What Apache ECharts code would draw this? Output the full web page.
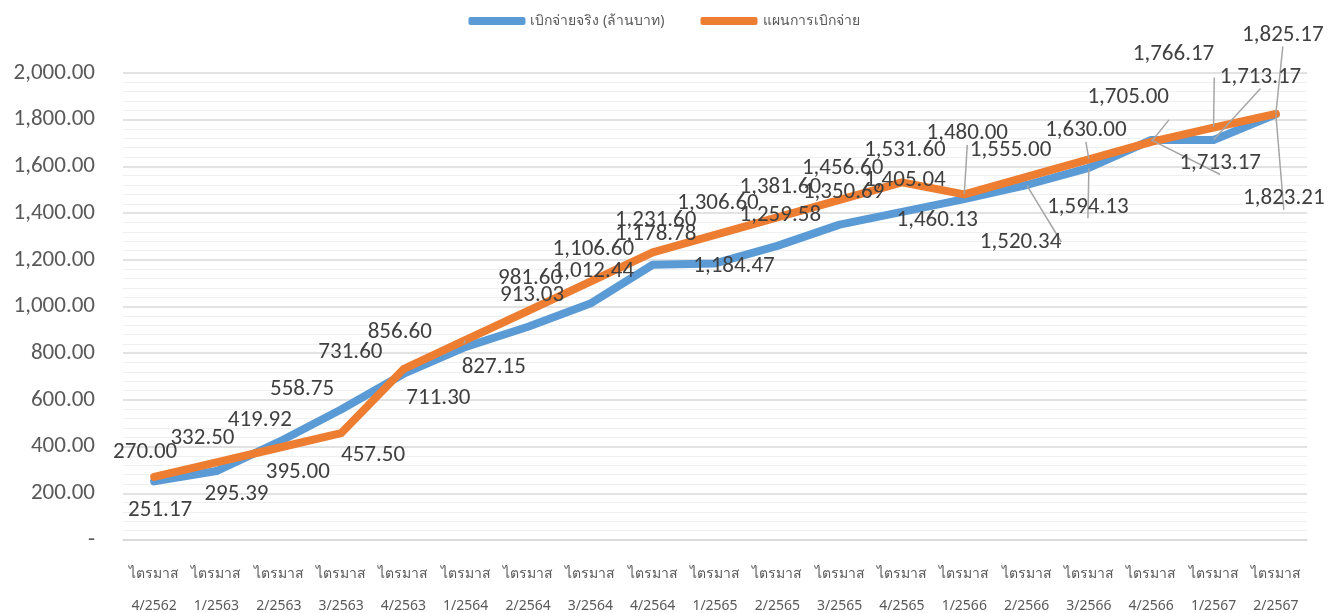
<!DOCTYPE html>
<html>
<head>
<meta charset="utf-8">
<script src="https://cdn.jsdelivr.net/npm/echarts@6/dist/echarts.min.js"></script>
<style>
  html, body { margin: 0; padding: 0; background: #fff; }
  #chart { width: 1328px; height: 613px; }
</style>
</head>
<body>
<div id="chart"></div>
<script>
  // quarters
  const quarters = ['4/2562', '1/2563', '2/2563', '3/2563', '4/2563', '1/2564', '2/2564', '3/2564', '4/2564',
    '1/2565', '2/2565', '3/2565', '4/2565', '1/2566', '2/2566', '3/2566', '4/2566', '1/2567', '2/2567']
  const categories = quarters.map(q => 'ไตรมาส\n' + q)

  const actual = [251.17, 295.39, 419.92, 558.75, 711.30, 827.15, 913.03, 1012.44, 1178.78,
    1184.47, 1259.58, 1350.69, 1405.04, 1460.13, 1520.34, 1594.13, 1713.17, 1713.17, 1823.21]
  const plan = [270.00, 332.50, 395.00, 457.50, 731.60, 856.60, 981.60, 1106.60, 1231.60,
    1306.60, 1381.60, 1456.60, 1531.60, 1480.00, 1555.00, 1630.00, 1705.00, 1766.17, 1825.17]

  const actualName = 'เบิกจ่ายจริง (ล้านบาท)'
  const planName = 'แผนการเบิกจ่าย'

  // label offsets (dx, dy) from each point, and which labels get a leader line
  const actualOffsets = [[6, 29], [20, 23], [-19, -22], [-39, -20], [35, 24], [28, 20], [4, -32], [3, -32], [3, -31],
    [19, 3], [3, -31], [4, -32], [3, -32], [-27, 21], [-6, 57], [-1, 39], [69, 23], [47, -63], [8, 84]]
  const planOffsets = [[-9, -25], [-14, -24], [19, 24], [32, 22], [-53, -17], [-66, -8], [2, -33], [3, -32], [3, -32],
    [3, -32], [3, -30], [3, -32], [3, -32], [3, -61], [-16, -27], [-3, -29], [-23, -45], [-40, -73], [7, -79]]
  const actualLeader = [14, 15, 16, 17, 18]
  const planLeader = [5, 13, 15, 16, 17, 18]

  const numFont = 'Calibri, Carlito, "Open Sans", "Noto Sans", sans-serif'
  const fmt = v => v === 0 ? '-' : v.toLocaleString('en-US', { minimumFractionDigits: 2, maximumFractionDigits: 2 })

  function buildData(values, offsets, leaders) {
    return values.map((v, i) => ({
      value: v,
      label: { offset: offsets[i] },
      labelLine: { show: leaders.indexOf(i) >= 0 }
    }))
  }

  function makeSeries(name, color, values, offsets, leaders) {
    return {
      name: name,
      type: 'line',
      data: buildData(values, offsets, leaders),
      symbol: 'circle',
      symbolSize: 1,
      showSymbol: true,
      itemStyle: { color: color },
      lineStyle: { width: 8, color: color, cap: 'round', join: 'round' },
      label: {
        show: true,
        position: 'inside',
        color: '#404040',
        fontSize: 23,
        fontFamily: numFont,
        formatter: p => fmt(p.value)
      },
      labelLine: {
        lineStyle: { color: '#a6a6a6', width: 1.5 }
      },
      emphasis: { disabled: true },
      animation: false
    }
  }

  const chart = echarts.init(document.getElementById('chart'))
  chart.setOption({
    backgroundColor: '#fff',
    textStyle: { fontFamily: '"Noto Sans", "Open Sans", sans-serif' },
    legend: {
      top: 9,
      left: 'center',
      itemGap: 36,
      itemWidth: 57,
      itemHeight: 8,
      icon: 'roundRect',
      textStyle: { color: '#595959', fontSize: 14 },
      data: [actualName, planName]
    },
    grid: {
      left: 123,
      right: 21,
      top: 73,
      bottom: 73,
      outerBoundsMode: 'none'
    },
    xAxis: {
      type: 'category',
      data: categories,
      boundaryGap: true,
      axisLine: { lineStyle: { color: '#d9d9d9', width: 1.5 } },
      axisTick: { show: false },
      axisLabel: {
        color: '#595959',
        fontSize: 14,
        lineHeight: 32,
        margin: 18,
        interval: 0
      }
    },
    yAxis: {
      type: 'value',
      min: 0,
      max: 2000,
      interval: 200,
      axisLine: { show: false },
      axisTick: { show: false },
      axisLabel: {
        color: '#595959',
        fontSize: 23,
        margin: 28,
        fontFamily: numFont,
        formatter: fmt
      },
      splitLine: { lineStyle: { color: '#d9d9d9', width: 1.5 } },
      minorTick: { show: false, splitNumber: 5 },
      minorSplitLine: { show: true, lineStyle: { color: '#f0f0f0', width: 1 } }
    },
    series: [
      makeSeries(actualName, '#5B9BD5', actual, actualOffsets, actualLeader),
      makeSeries(planName, '#ED7D31', plan, planOffsets, planLeader)
    ]
  })
</script>
</body>
</html>
